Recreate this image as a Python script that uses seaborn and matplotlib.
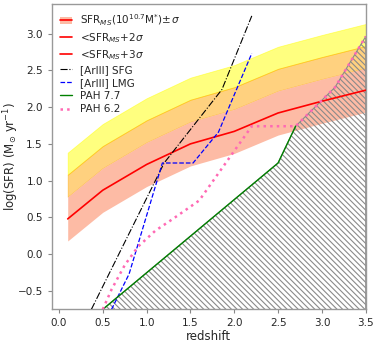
import numpy as np
import matplotlib
matplotlib.use("Agg")
import matplotlib.pyplot as plt
import seaborn as sns
from matplotlib.lines import Line2D
from matplotlib.patches import Patch

# ---- data ----
ms_z = [0.1, 0.5, 1.0, 1.5, 2.0, 2.5, 3.0, 3.5]
ms_sfr = [0.48, 0.87, 1.22, 1.50, 1.67, 1.92, 2.08, 2.23]
ms_sigma = 0.3

sfg_z = [0.37, 1.20, 1.86, 2.20]
sfg_sfr = [-0.75, 1.24, 2.24, 3.24]

lmg_z = [0.60, 0.80, 1.18, 1.53, 1.82, 2.20]
lmg_sfr = [-0.75, -0.27, 1.24, 1.24, 1.66, 2.73]

pah77_z = [0.50, 2.50, 2.70]
pah77_sfr = [-0.75, 1.24, 1.74]

pah62_z = [0.50, 0.60, 0.75, 0.90, 1.10, 1.30, 1.60, 1.95, 2.20, 2.70, 3.15, 3.50]
pah62_sfr = [-0.75, -0.48, -0.15, 0.10, 0.32, 0.48, 0.73, 1.32, 1.74, 1.74, 2.27, 2.96]

limit_z = [0.50, 2.50, 2.70, 3.15, 3.50]
limit_sfr = [-0.75, 1.24, 1.74, 2.27, 2.96]

xticks = [0.0, 0.5, 1.0, 1.5, 2.0, 2.5, 3.0, 3.5]
yticks = [-0.5, 0.0, 0.5, 1.0, 1.5, 2.0, 2.5, 3.0]

sns.set_style("ticks")
plt.rcParams['font.family'] = ['DejaVu Sans']
plt.rcParams['hatch.linewidth'] = 0.8

fig = plt.figure(figsize=(3.79, 3.43), dpi=100)
ax = fig.add_axes([0.137, 0.098, 0.828, 0.890])

ms = np.array(ms_sfr)
ax.fill_between(ms_z, ms + 2 * ms_sigma, ms + 3 * ms_sigma, color='yellow', alpha=0.5, lw=0.6, zorder=1)
ax.fill_between(ms_z, ms + ms_sigma, ms + 2 * ms_sigma, color='orange', alpha=0.5, lw=0.6, zorder=1)
ax.fill_between(ms_z, ms - ms_sigma, ms + ms_sigma, color='#FDBBA5', lw=0, zorder=1)

ax.fill_between(limit_z, -1.0, limit_sfr, facecolor='none', edgecolor='#8a8a8a',
                hatch='\\\\\\\\\\\\', lw=0.8, zorder=2)

sns.lineplot(x=ms_z, y=ms_sfr, ax=ax, color='red', lw=1.2, sort=False, estimator=None, zorder=4)
sns.lineplot(x=sfg_z, y=sfg_sfr, ax=ax, color='black', lw=0.8, linestyle='-.', sort=False, estimator=None, zorder=4)
sns.lineplot(x=lmg_z, y=lmg_sfr, ax=ax, color='blue', lw=0.9, linestyle='--', sort=False, estimator=None, zorder=4)
sns.lineplot(x=pah77_z, y=pah77_sfr, ax=ax, color='green', lw=1.0, sort=False, estimator=None, zorder=4)
sns.lineplot(x=pah62_z, y=pah62_sfr, ax=ax, color='hotpink', lw=1.8, linestyle=':', sort=False, estimator=None, zorder=4)

ax.set_xlim(-0.08, 3.5)
ax.set_ylim(-0.75, 3.4)
ax.set_xticks(xticks)
ax.set_yticks(yticks)
ax.tick_params(labelsize=7.5, length=3, width=0.8, color='#888888')
for s in ax.spines.values():
    s.set_visible(True)
    s.set_color('#999999')
    s.set_linewidth(1.0)
ax.set_xlabel('redshift', fontsize=8.5, labelpad=1)
ax.set_ylabel(r'log(SFR) (M$_{\odot}$ yr$^{-1}$)', fontsize=8.5)
ax.yaxis.set_label_coords(-0.098, 0.5)

handles = [
    (Patch(facecolor='#FDBBA5', edgecolor='none'), Line2D([], [], color='red', lw=1.2)),
    Line2D([], [], color='red', lw=1.2),
    Line2D([], [], color='red', lw=1.2),
    Line2D([], [], color='black', lw=0.8, ls='-.'),
    Line2D([], [], color='blue', lw=0.9, ls='--'),
    Line2D([], [], color='green', lw=1.0),
    Line2D([], [], color='hotpink', lw=1.8, ls=':'),
]
labels = [
    r'SFR$_{MS}$(10$^{10.7}$M$^{*}$)$\pm\,\sigma$',
    r'<SFR$_{MS}$+2$\sigma$',
    r'<SFR$_{MS}$+3$\sigma$',
    '[ArIII] SFG',
    '[ArIII] LMG',
    'PAH 7.7',
    'PAH 6.2',
]
ax.legend(handles, labels, loc='upper left', frameon=False, fontsize=7.5,
          handlelength=1.1, handletextpad=0.8, labelspacing=0.3,
          borderaxespad=0.4, bbox_to_anchor=(0.0, 1.0))

fig.savefig('out.png', dpi=100)
